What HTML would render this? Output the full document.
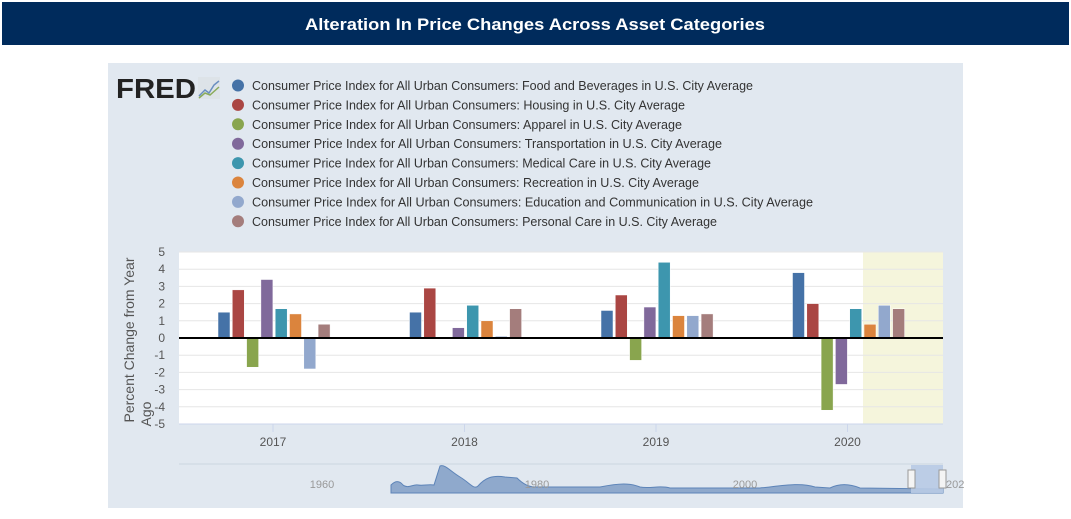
<!DOCTYPE html>
<html><head><meta charset="utf-8"><style>
body{margin:0;background:#fff;width:1071px;height:514px;overflow:hidden;font-family:"Liberation Sans",sans-serif}
</style></head><body>
<svg width="1071" height="514" viewBox="0 0 1071 514" id="svg" font-family="Liberation Sans, sans-serif">
<rect x="2" y="2" width="1067" height="43" fill="#002b5c"/>
<text x="535" y="30" text-anchor="middle" fill="#fff" font-size="17" font-weight="bold" textLength="460" lengthAdjust="spacingAndGlyphs">Alteration In Price Changes Across Asset Categories</text>
<rect x="108" y="63" width="855" height="445" fill="#e1e8f0"/>
<g>
<text x="116" y="98" font-size="28" font-weight="bold" fill="#222" textLength="80" lengthAdjust="spacingAndGlyphs">FRED</text>
<rect x="198" y="77" width="22" height="22" fill="#dde3e8"/>
<polyline points="199,96 205,90 209,93 214,85 219,81" fill="none" stroke="#6a8fc0" stroke-width="1.5"/>
<polyline points="199,98 205,93 210,95 219,87" fill="none" stroke="#8aab5a" stroke-width="1.5"/>
</g>
<g id="legend"></g>
<rect x="179" y="252" width="764" height="172" fill="#fff"/>
<rect x="863" y="252" width="80" height="172" fill="#f5f5dc"/>
<g id="grid"></g><g id="bars"></g><g id="axes"></g>
<g>
<line x1="179" y1="464" x2="943" y2="464" stroke="#ccd6e0"/>
<path d="M391,485 C395,481 399,480 403,485 C408,489 413,484 418,485 C423,486 428,484 434,485 L440,466 C445,464 450,471 460,477 C470,483 474,490 478,486 C485,478 492,475 505,477 L517,478 C522,483 528,487 535,487 L600,487 C620,483 630,483 640,487 C650,489 660,485 670,488 L760,488 C780,486 800,482 815,487 L830,488 C840,483 850,484 860,488 L943,489 L943,493 L391,493 Z" fill="#8fa9cc" stroke="#5d84b8"/>
<rect x="911" y="465" width="32" height="28" fill="#b8cae4" opacity="0.9"/>
<rect x="908" y="470" width="7" height="18" fill="#f4f4f4" stroke="#999"/>
<rect x="939" y="470" width="7" height="18" fill="#f4f4f4" stroke="#999"/>
<text x="322" y="488" text-anchor="middle" fill="#999" font-size="11">1960</text>
<text x="537" y="488" text-anchor="middle" fill="#999" font-size="11">1980</text>
<text x="745" y="488" text-anchor="middle" fill="#999" font-size="11">2000</text>
<text x="946" y="488" fill="#999" font-size="11">202</text>
</g>
<text transform="translate(134,340) rotate(-90)" text-anchor="middle" fill="#555" font-size="14">Percent Change from Year</text>
<text transform="translate(151,414) rotate(-90)" text-anchor="middle" fill="#555" font-size="14">Ago</text>
</svg>
<script>
const series = ["Food and Beverages","Housing","Apparel","Transportation","Medical Care","Recreation","Education and Communication","Personal Care"];
const colors = ["#4572a7","#aa4643","#89a54e","#80699b","#3d96ae","#db843d","#92a8cd","#a47d7c"];
const years = ["2017","2018","2019","2020"];
const yTicks = [5,4,3,2,1,0,-1,-2,-3,-4,-5];
const food = [1.5,1.5,1.6,3.8];
const housing = [2.8,2.9,2.5,2.0];
const apparel = [-1.7,0,-1.3,-4.2];
const transport = [3.4,0.6,1.8,-2.7];
const medical = [1.7,1.9,4.4,1.7];
const recreation = [1.4,1.0,1.3,0.8];
const education = [-1.8,0.1,1.3,1.9];
const personal = [0.8,1.7,1.4,1.7];
const values = [food,housing,apparel,transport,medical,recreation,education,personal];
const legendEnds = [753,685,682,722,711,699,813,717];
const NS="http://www.w3.org/2000/svg";
function mk(t,a,p){const e=document.createElementNS(NS,t);for(const k in a)e.setAttribute(k,a[k]);p.appendChild(e);return e;}
const yS=v=>338-v*17.2;
const xS=i=>273+i*191.5;
const lg=document.getElementById('legend');
series.forEach((s,i)=>{
 const y=85.5+i*19.4;
 const c=mk('circle',{cx:238,cy:y,r:6,fill:colors[i]},lg);
 
 
 const t=mk('text',{x:252,y:y+4.5,'font-size':13,fill:'#333',textLength:legendEnds[i]-252,lengthAdjust:'spacingAndGlyphs'},lg);
 t.textContent="Consumer Price Index for All Urban Consumers: "+s+" in U.S. City Average";
 
 
});
const g=document.getElementById('grid'),ax=document.getElementById('axes'),b=document.getElementById('bars');
yTicks.forEach(v=>{
 const l=mk('line',{x1:179,x2:943,y1:yS(v),y2:yS(v),stroke:'#e6e6e6'},g);
 
 
 const t=mk('text',{x:165,y:yS(v)+4,'text-anchor':'end','font-size':12,fill:'#555'},ax);
 t.textContent=v;
 
 
});
years.forEach((yr,i)=>{
 const l=mk('line',{x1:xS(i),x2:xS(i),y1:424,y2:432,stroke:'#ccd6eb'},ax);
 
 
 const t=mk('text',{x:xS(i),y:446,'text-anchor':'middle','font-size':12,fill:'#555'},ax);
 t.textContent=yr;
 
 
});
values.forEach((arr,si)=>{
 arr.forEach((v,yi)=>{
  if(v===0)return;
  const x=xS(yi)-55+si*14.3;
  const r=mk('rect',{x:x,y:Math.min(yS(v),yS(0)),width:12,height:Math.abs(yS(v)-yS(0)),fill:colors[si],stroke:'#fff','stroke-width':0.5},b);
  
  
 });
});
const z=mk('line',{x1:179,x2:943,y1:yS(0),y2:yS(0),stroke:'#000','stroke-width':2},ax);


mk('line',{x1:179,x2:943,y1:424,y2:424,stroke:'#ccd6eb'},ax);
</script>
</body></html>
